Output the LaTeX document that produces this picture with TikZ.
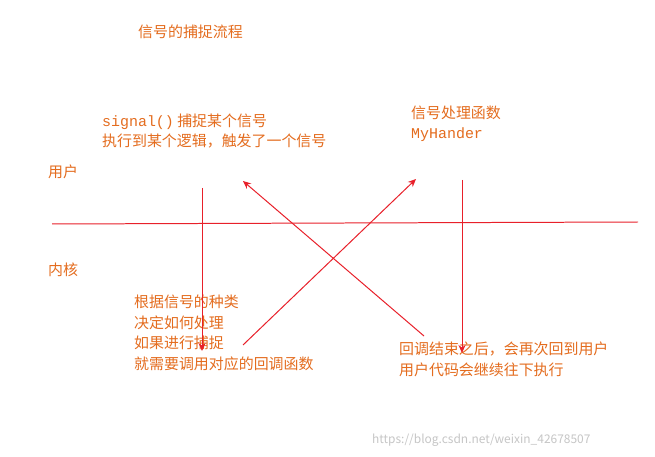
\documentclass[tikz,border=0pt]{standalone}
\usepackage{fontspec}
\usetikzlibrary{arrows.meta}
\setmainfont{Noto Sans CJK SC}
\newfontfamily\monof{Liberation Mono}
\definecolor{org}{HTML}{E46C1E}
\definecolor{lred}{HTML}{E8202A}
\begin{document}
\begin{tikzpicture}[x=1bp,y=-1bp,
  txt/.style={text=org,font=\fontsize{15}{20.5}\selectfont,anchor=base west,inner sep=0,align=left},
  ln/.style={draw=lred,line width=1pt},
  arr/.style={ln,-{Stealth[length=8pt,width=7pt]}}]
\useasboundingbox (0,0) rectangle (655,457);
\fill[white] (0,0) rectangle (655,457);
\node[txt] (title) at (138,38) {信号的捕捉流程};
\node[txt] (user) at (48,178) {用户};
\node[txt] (kern) at (48,276) {内核};
\coordinate (hl) at (52,224); \coordinate (hr) at (638,222);
\draw[ln] (hl) -- (hr);
\node[txt] (t1) at (102,147) {{\monof signal()} 捕捉某个信号\\执行到某个逻辑，触发了一个信号};
\node[txt] (t2) at (411,139) {信号处理函数\\ {\monof MyHander}};
\node[txt] (t3) at (134,369) {根据信号的种类\\决定如何处理\\如果进行捕捉\\就需要调用对应的回调函数};
\node[txt] (t4) at (399,375) {回调结束之后，会再次回到用户\\用户代码会继续往下执行};
\node[text=gray!45,font=\fontsize{12}{14}\selectfont,anchor=base west,inner sep=0] (wm) at (372,443) {https://blog.csdn.net/weixin\_42678507};
\coordinate (a1) at (202,188); \coordinate (a2) at (202,351);
\coordinate (b1) at (243,345); \coordinate (b2) at (416,179);
\coordinate (c1) at (462,180); \coordinate (c2) at (462,353);
\coordinate (d1) at (424,336); \coordinate (d2) at (243,181);
\draw[arr] (a1) -- (a2);
\draw[arr] (b1) -- (b2);
\draw[arr] (c1) -- (c2);
\draw[arr] (d1) -- (d2);
\end{tikzpicture}
\end{document}
